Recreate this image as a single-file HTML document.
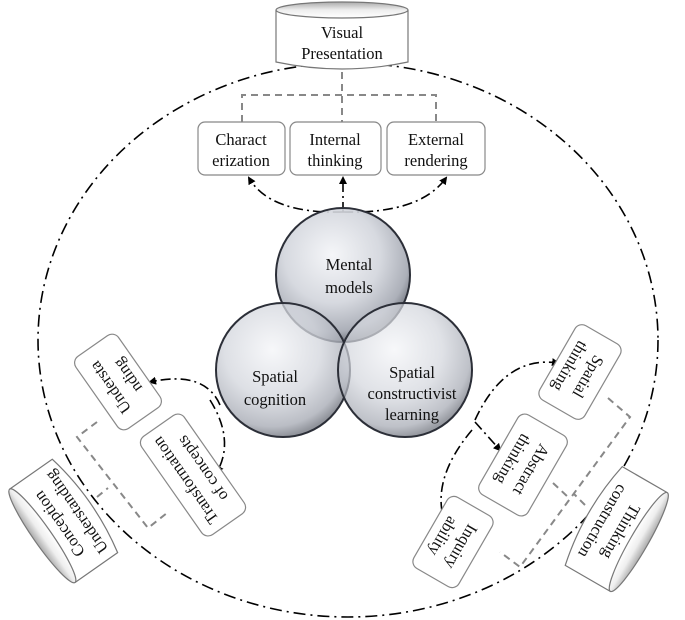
<!DOCTYPE html>
<html><head><meta charset="utf-8"><style>
body{margin:0;background:#fff}
svg{display:block}
text{font-family:"Liberation Serif",serif;font-size:16.5px;fill:#111;text-anchor:middle}
</style></head><body>
<svg width="685" height="620" viewBox="0 0 685 620" xmlns="http://www.w3.org/2000/svg">
<defs>
<radialGradient id="g" cx="0.42" cy="0.35" r="0.65">
<stop offset="0" stop-color="#f4f5f8"/><stop offset="0.55" stop-color="#d2d5dc"/><stop offset="0.88" stop-color="#a3a7b1"/><stop offset="1" stop-color="#6d717b"/>
</radialGradient>
<linearGradient id="cy" x1="0" y1="0" x2="0" y2="1">
<stop offset="0" stop-color="#aaa"/><stop offset="0.5" stop-color="#eee"/><stop offset="1" stop-color="#fff"/>
</linearGradient>
<marker id="ar" markerWidth="8" markerHeight="8" refX="6" refY="4" orient="auto" markerUnits="userSpaceOnUse">
<path d="M0,0 L8,4 L0,8 z" fill="#000"/></marker>
</defs>

<ellipse cx="348" cy="340" rx="310" ry="277" fill="none" stroke="#000" stroke-width="1.6" stroke-dasharray="12,5,2,5"/>

<g>
<path d="M276,10 L276,62 Q342,76 408,62 L408,10" fill="#fff" stroke="#777" stroke-width="1.2"/>
<ellipse cx="342" cy="10" rx="66" ry="8" fill="url(#cy)" stroke="#777" stroke-width="1.2"/>
<text x="342" y="38">Visual</text>
<text x="342" y="59">Presentation</text>
</g>

<g fill="none" stroke="#888" stroke-width="2" stroke-dasharray="7,5">
<path d="M342,72 L342,122"/>
<path d="M242,122 L242,95 L436,95 L436,122"/>
</g>

<g fill="#fff" stroke="#888" stroke-width="1.2">
<rect x="198" y="122" width="87" height="53" rx="7"/>
<rect x="290" y="122" width="91" height="53" rx="7"/>
<rect x="387" y="122" width="98" height="53" rx="7"/>
</g>
<text x="241" y="145">Charact</text><text x="241" y="166">erization</text>
<text x="335" y="145">Internal</text><text x="335" y="166">thinking</text>
<text x="436" y="145">External</text><text x="436" y="166">rendering</text>

<g fill="none" stroke="#000" stroke-width="1.6" stroke-dasharray="10,4,2,4">
<path d="M343,212 Q270,214 249,178" marker-end="url(#ar)"/>
<path d="M343,212 L343,178" marker-end="url(#ar)"/>
<path d="M343,212 Q420,214 446,178" marker-end="url(#ar)"/>
</g>

<g stroke="#2c2f38" stroke-width="2">
<circle cx="343" cy="275" r="67" fill="url(#g)" fill-opacity="0.9"/>
<circle cx="283" cy="370" r="67" fill="url(#g)" fill-opacity="0.75"/>
<circle cx="405" cy="370" r="67" fill="url(#g)" fill-opacity="0.7"/>
</g>
<text x="349" y="270">Mental</text><text x="349" y="293">models</text>
<text x="275" y="382">Spatial</text><text x="275" y="405">cognition</text>
<text x="412" y="378">Spatial</text><text x="412" y="399">constructivist</text><text x="412" y="420">learning</text>

<g fill="none" stroke="#888" stroke-width="2" stroke-dasharray="7,5">
<path d="M97,422 L77,437 L148,528 L167,513"/>
<path d="M97,497 L108,488"/>
</g>
<g fill="none" stroke="#888" stroke-width="2" stroke-dasharray="7,5">
<path d="M608,398 L630,417 L520,567 L500,552"/>
<path d="M553,483 L568,497"/>
<path d="M585,505 L574,494"/>
</g>

<g fill="none" stroke="#000" stroke-width="1.6" stroke-dasharray="10,4,2,4">
<path d="M220,405 Q205,370 150,382" marker-end="url(#ar)"/>
<path d="M210,400 Q235,440 217,472" marker-end="url(#ar)"/>
</g>
<g fill="none" stroke="#000" stroke-width="1.6" stroke-dasharray="10,4,2,4">
<path d="M475,420 Q505,355 558,363" marker-end="url(#ar)"/>
<path d="M475,422 L500,450" marker-end="url(#ar)"/>
<path d="M472,430 Q430,480 445,523" marker-end="url(#ar)"/>
</g>

<g transform="translate(118,382) rotate(-125)">
<rect x="-44" y="-26" width="88" height="52" rx="8" fill="#fff" stroke="#888" stroke-width="1.2"/>
<text x="0" y="-4">Understa</text><text x="0" y="17">nding</text>
</g>
<g transform="translate(193,475) rotate(-125)">
<rect x="-60" y="-26" width="120" height="52" rx="8" fill="#fff" stroke="#888" stroke-width="1.2"/>
<text x="0" y="-4">Transformation</text><text x="0" y="17">of concepts</text>
</g>
<g transform="translate(62,522) rotate(-125)">
<path d="M-57,-24 L-57,28 Q0,40 57,28 L57,-24" fill="#fff" stroke="#777" stroke-width="1.2"/>
<ellipse cx="0" cy="-24" rx="57" ry="9" fill="url(#cy)" stroke="#777" stroke-width="1.2"/>
<text x="0" y="2">Conception</text><text x="0" y="23">Understanding</text>
</g>

<g transform="translate(580,372) rotate(120)">
<rect x="-43" y="-26" width="86" height="52" rx="8" fill="#fff" stroke="#888" stroke-width="1.2"/>
<text x="0" y="-4">Spatial</text><text x="0" y="17">thinking</text>
</g>
<g transform="translate(523,465) rotate(120)">
<rect x="-46" y="-28" width="92" height="56" rx="8" fill="#fff" stroke="#888" stroke-width="1.2"/>
<text x="0" y="-4">Abstract</text><text x="0" y="17">thinking</text>
</g>
<g transform="translate(453,542) rotate(120)">
<rect x="-41" y="-26" width="82" height="52" rx="8" fill="#fff" stroke="#888" stroke-width="1.2"/>
<text x="0" y="-4">Inquiry</text><text x="0" y="17">ability</text>
</g>
<g transform="translate(618,530) rotate(120)">
<path d="M-57,-24 L-57,28 Q0,40 57,28 L57,-24" fill="#fff" stroke="#777" stroke-width="1.2"/>
<ellipse cx="0" cy="-24" rx="57" ry="9" fill="url(#cy)" stroke="#777" stroke-width="1.2"/>
<text x="0" y="2">Thinking</text><text x="0" y="23">construction</text>
</g>
</svg>
</body></html>
